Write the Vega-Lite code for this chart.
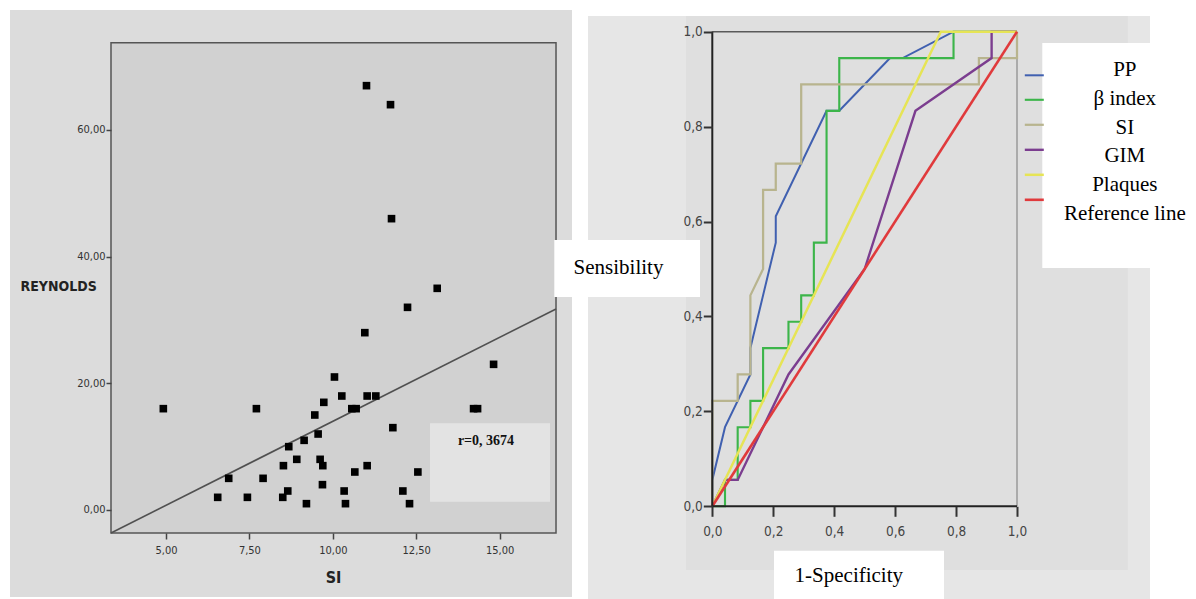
{
  "$schema": "https://vega.github.io/schema/vega-lite/v6.json",
  "width": 1196,
  "height": 599,
  "autosize": {"type": "none"},
  "padding": 0,
  "background": "#ffffff",
  "config": {
    "view": {"stroke": null},
    "axis": {"grid": false, "zindex": 1, "labelOverlap": false, "labelFlush": false, "labelBound": false}
  },
  "datasets": {
    "scatter": [
      {"SI": 4.92, "REYNOLDS": 16}, {"SI": 6.55, "REYNOLDS": 2}, {"SI": 6.88, "REYNOLDS": 5},
      {"SI": 7.44, "REYNOLDS": 2}, {"SI": 7.71, "REYNOLDS": 16}, {"SI": 7.91, "REYNOLDS": 5},
      {"SI": 8.5, "REYNOLDS": 2}, {"SI": 8.52, "REYNOLDS": 7}, {"SI": 8.65, "REYNOLDS": 3},
      {"SI": 8.68, "REYNOLDS": 10}, {"SI": 8.92, "REYNOLDS": 8}, {"SI": 9.14, "REYNOLDS": 11},
      {"SI": 9.21, "REYNOLDS": 1}, {"SI": 9.46, "REYNOLDS": 15}, {"SI": 9.56, "REYNOLDS": 12},
      {"SI": 9.62, "REYNOLDS": 8}, {"SI": 9.7, "REYNOLDS": 7}, {"SI": 9.69, "REYNOLDS": 4},
      {"SI": 9.73, "REYNOLDS": 17}, {"SI": 10.05, "REYNOLDS": 21}, {"SI": 10.27, "REYNOLDS": 18},
      {"SI": 10.34, "REYNOLDS": 3}, {"SI": 10.38, "REYNOLDS": 1}, {"SI": 10.57, "REYNOLDS": 16},
      {"SI": 10.7, "REYNOLDS": 16}, {"SI": 10.66, "REYNOLDS": 6}, {"SI": 10.96, "REYNOLDS": 28},
      {"SI": 11.03, "REYNOLDS": 18}, {"SI": 11.03, "REYNOLDS": 7}, {"SI": 11.29, "REYNOLDS": 18},
      {"SI": 11.8, "REYNOLDS": 13}, {"SI": 12.1, "REYNOLDS": 3}, {"SI": 12.24, "REYNOLDS": 32},
      {"SI": 12.3, "REYNOLDS": 1}, {"SI": 12.55, "REYNOLDS": 6}, {"SI": 13.13, "REYNOLDS": 35},
      {"SI": 14.22, "REYNOLDS": 16}, {"SI": 14.34, "REYNOLDS": 16}, {"SI": 14.82, "REYNOLDS": 23},
      {"SI": 11.01, "REYNOLDS": 67}, {"SI": 11.73, "REYNOLDS": 64}, {"SI": 11.76, "REYNOLDS": 46}
    ],
    "fit": [
      {"SI": 3.3513, "REYNOLDS": -3.632},
      {"SI": 16.691, "REYNOLDS": 31.74}
    ],
    "roc": [
      {"series": "PP", "i": 0, "fpr": 0, "tpr": 0},
      {"series": "PP", "i": 1, "fpr": 0, "tpr": 0.0556},
      {"series": "PP", "i": 2, "fpr": 0.0417, "tpr": 0.1667},
      {"series": "PP", "i": 3, "fpr": 0.125, "tpr": 0.2778},
      {"series": "PP", "i": 4, "fpr": 0.125, "tpr": 0.3333},
      {"series": "PP", "i": 5, "fpr": 0.2083, "tpr": 0.5556},
      {"series": "PP", "i": 6, "fpr": 0.2083, "tpr": 0.6111},
      {"series": "PP", "i": 7, "fpr": 0.375, "tpr": 0.8333},
      {"series": "PP", "i": 8, "fpr": 0.4167, "tpr": 0.8333},
      {"series": "PP", "i": 9, "fpr": 0.5833, "tpr": 0.9444},
      {"series": "PP", "i": 10, "fpr": 0.625, "tpr": 0.9444},
      {"series": "PP", "i": 11, "fpr": 0.7917, "tpr": 1},
      {"series": "PP", "i": 12, "fpr": 1, "tpr": 1},
      {"series": "β index", "i": 0, "fpr": 0, "tpr": 0},
      {"series": "β index", "i": 1, "fpr": 0.0417, "tpr": 0},
      {"series": "β index", "i": 2, "fpr": 0.0417, "tpr": 0.0556},
      {"series": "β index", "i": 3, "fpr": 0.0833, "tpr": 0.0556},
      {"series": "β index", "i": 4, "fpr": 0.0833, "tpr": 0.1667},
      {"series": "β index", "i": 5, "fpr": 0.125, "tpr": 0.1667},
      {"series": "β index", "i": 6, "fpr": 0.125, "tpr": 0.2222},
      {"series": "β index", "i": 7, "fpr": 0.1667, "tpr": 0.2222},
      {"series": "β index", "i": 8, "fpr": 0.1667, "tpr": 0.3333},
      {"series": "β index", "i": 9, "fpr": 0.25, "tpr": 0.3333},
      {"series": "β index", "i": 10, "fpr": 0.25, "tpr": 0.3889},
      {"series": "β index", "i": 11, "fpr": 0.2917, "tpr": 0.3889},
      {"series": "β index", "i": 12, "fpr": 0.2917, "tpr": 0.4444},
      {"series": "β index", "i": 13, "fpr": 0.3333, "tpr": 0.4444},
      {"series": "β index", "i": 14, "fpr": 0.3333, "tpr": 0.5556},
      {"series": "β index", "i": 15, "fpr": 0.375, "tpr": 0.5556},
      {"series": "β index", "i": 16, "fpr": 0.375, "tpr": 0.8333},
      {"series": "β index", "i": 17, "fpr": 0.4167, "tpr": 0.8333},
      {"series": "β index", "i": 18, "fpr": 0.4167, "tpr": 0.9444},
      {"series": "β index", "i": 19, "fpr": 0.7917, "tpr": 0.9444},
      {"series": "β index", "i": 20, "fpr": 0.7917, "tpr": 1},
      {"series": "β index", "i": 21, "fpr": 1, "tpr": 1},
      {"series": "SI", "i": 0, "fpr": 0, "tpr": 0},
      {"series": "SI", "i": 1, "fpr": 0, "tpr": 0.2222},
      {"series": "SI", "i": 2, "fpr": 0.0833, "tpr": 0.2222},
      {"series": "SI", "i": 3, "fpr": 0.0833, "tpr": 0.2778},
      {"series": "SI", "i": 4, "fpr": 0.125, "tpr": 0.2778},
      {"series": "SI", "i": 5, "fpr": 0.125, "tpr": 0.4444},
      {"series": "SI", "i": 6, "fpr": 0.1667, "tpr": 0.5},
      {"series": "SI", "i": 7, "fpr": 0.1667, "tpr": 0.6667},
      {"series": "SI", "i": 8, "fpr": 0.2083, "tpr": 0.6667},
      {"series": "SI", "i": 9, "fpr": 0.2083, "tpr": 0.7222},
      {"series": "SI", "i": 10, "fpr": 0.2917, "tpr": 0.7222},
      {"series": "SI", "i": 11, "fpr": 0.2917, "tpr": 0.8889},
      {"series": "SI", "i": 12, "fpr": 0.875, "tpr": 0.8889},
      {"series": "SI", "i": 13, "fpr": 0.875, "tpr": 0.9444},
      {"series": "SI", "i": 14, "fpr": 1, "tpr": 0.9444},
      {"series": "SI", "i": 15, "fpr": 1, "tpr": 1},
      {"series": "GIM", "i": 0, "fpr": 0, "tpr": 0},
      {"series": "GIM", "i": 1, "fpr": 0.0417, "tpr": 0.0556},
      {"series": "GIM", "i": 2, "fpr": 0.0833, "tpr": 0.0556},
      {"series": "GIM", "i": 3, "fpr": 0.25, "tpr": 0.2778},
      {"series": "GIM", "i": 4, "fpr": 0.5, "tpr": 0.5},
      {"series": "GIM", "i": 5, "fpr": 0.6667, "tpr": 0.8333},
      {"series": "GIM", "i": 6, "fpr": 0.9167, "tpr": 0.9444},
      {"series": "GIM", "i": 7, "fpr": 0.9167, "tpr": 1},
      {"series": "GIM", "i": 8, "fpr": 1, "tpr": 1},
      {"series": "Plaques", "i": 0, "fpr": 0, "tpr": 0},
      {"series": "Plaques", "i": 1, "fpr": 0.75, "tpr": 1},
      {"series": "Plaques", "i": 2, "fpr": 1, "tpr": 1},
      {"series": "Reference line", "i": 0, "fpr": 0, "tpr": 0},
      {"series": "Reference line", "i": 1, "fpr": 1, "tpr": 1}
    ],
    "curves": [
      {"series": "PP"}, {"series": "β index"}, {"series": "SI"},
      {"series": "GIM"}, {"series": "Plaques"}, {"series": "Reference line"}
    ]
  },
  "resolve": {"scale": {"x": "independent", "y": "independent"}},
  "layer": [
    {
      "layer": [
        {
          "data": {"values": [{}]},
          "mark": {"type": "rect", "fill": "#dcdcdc"},
          "encoding": {
            "x": {
              "datum": 0.3237, "type": "quantitative",
              "scale": {"domain": [0.02398, 35.8753], "nice": false, "zero": false},
              "axis": {
                "orient": "bottom", "offset": -66, "values": [5, 7.5, 10, 12.5, 15], "zindex": 2,
                "labelExpr": "replace(format(datum.value, '.2f'), '.', ',')",
                "domain": false, "tickSize": 6, "tickWidth": 1.5, "tickColor": "#444",
                "labelFont": "'Liberation Sans Narrow', 'DejaVu Sans Condensed', sans-serif",
                "labelFontSize": 11, "labelColor": "#333", "labelPadding": 5,
                "title": "SI",
                "titleFont": "'Liberation Sans Narrow', 'DejaVu Sans Condensed', sans-serif",
                "titleFontSize": 16, "titleFontWeight": "bold", "titleColor": "#222",
                "titleX": 333, "titleY": 44, "titleAlign": "center", "titleBaseline": "middle"
              }
            },
            "x2": {"datum": 17.17},
            "y": {
              "datum": 78.947, "type": "quantitative",
              "scale": {"domain": [-14.053, 80.526], "nice": false, "zero": false},
              "axis": {
                "orient": "left", "offset": -111, "values": [0, 20, 40, 60], "zindex": 2,
                "labelExpr": "replace(format(datum.value, '.2f'), '.', ',')",
                "domain": false, "tickSize": 5, "tickWidth": 1.5, "tickColor": "#444",
                "labelFont": "'Liberation Sans Narrow', 'DejaVu Sans Condensed', sans-serif",
                "labelFontSize": 11, "labelColor": "#333", "labelPadding": 1,
                "title": "REYNOLDS",
                "titleFont": "'Liberation Sans Narrow', 'DejaVu Sans Condensed', sans-serif",
                "titleFontSize": 14, "titleFontWeight": "bold", "titleColor": "#222",
                "titleAngle": 0, "titleX": -91, "titleY": 286, "titleAlign": "left", "titleBaseline": "middle"
              }
            },
            "y2": {"datum": -13.737}
          }
        },
        {
          "data": {"values": [{}]},
          "mark": {"type": "rect", "fill": "#d1d1d1", "stroke": "#555555", "strokeWidth": 1.5},
          "encoding": {
            "x": {"datum": 3.3513, "type": "quantitative"},
            "x2": {"datum": 16.691},
            "y": {"datum": 73.79, "type": "quantitative"},
            "y2": {"datum": -3.632}
          }
        },
        {
          "data": {"name": "fit"},
          "mark": {"type": "line", "color": "#505050", "strokeWidth": 1.6},
          "encoding": {
            "x": {"field": "SI", "type": "quantitative"},
            "y": {"field": "REYNOLDS", "type": "quantitative"}
          }
        },
        {
          "data": {"name": "scatter"},
          "mark": {"type": "point", "shape": "square", "filled": true, "color": "#000000", "opacity": 1, "size": 58},
          "encoding": {
            "x": {"field": "SI", "type": "quantitative"},
            "y": {"field": "REYNOLDS", "type": "quantitative"}
          }
        },
        {
          "data": {"values": [{}]},
          "mark": {"type": "rect", "fill": "#e3e3e3"},
          "encoding": {
            "x": {"datum": 12.914, "type": "quantitative"},
            "x2": {"datum": 16.511},
            "y": {"datum": 13.69, "type": "quantitative"},
            "y2": {"datum": 1.311}
          }
        },
        {
          "data": {"values": [{}]},
          "mark": {"type": "text", "text": "r=0, 3674", "font": "'Liberation Serif', serif", "fontSize": 14, "fontWeight": "bold", "color": "#111111", "align": "center", "baseline": "middle"},
          "encoding": {
            "x": {"datum": 14.592, "type": "quantitative"},
            "y": {"datum": 10.9, "type": "quantitative"}
          }
        }
      ]
    },
    {
      "layer": [
        {
          "data": {"values": [{}]},
          "mark": {"type": "rect", "fill": "#e6e6e6"},
          "encoding": {
            "x": {
              "datum": -0.40794, "type": "quantitative",
              "scale": {"domain": [-2.33771, 1.58746], "nice": false, "zero": false},
              "axis": {
                "orient": "bottom", "offset": -92.7, "values": [0, 0.2, 0.4, 0.6, 0.8, 1], "zindex": 2,
                "labelExpr": "replace(format(datum.value, '.1f'), '.', ',')",
                "domain": false, "tickSize": 10, "tickWidth": 2, "tickColor": "#333",
                "labelFont": "'Liberation Sans Narrow', 'DejaVu Sans Condensed', sans-serif",
                "labelFontSize": 13.5, "labelColor": "#444", "labelPadding": 8.5,
                "title": null
              }
            },
            "x2": {"datum": 1.43649},
            "y": {
              "datum": 1.03308, "type": "quantitative",
              "scale": {"domain": [-0.19532, 1.06679], "nice": false, "zero": false},
              "axis": {
                "orient": "left", "offset": -712.3, "values": [0, 0.2, 0.4, 0.6, 0.8, 1], "zindex": 2,
                "labelExpr": "replace(format(datum.value, '.1f'), '.', ',')",
                "domain": false, "tickSize": 9, "tickWidth": 2, "tickColor": "#333",
                "labelFont": "'Liberation Sans Narrow', 'DejaVu Sans Condensed', sans-serif",
                "labelFontSize": 13.5, "labelColor": "#444", "labelPadding": 1,
                "title": null
              }
            },
            "y2": {"datum": -0.19532}
          }
        },
        {
          "data": {"values": [{}]},
          "mark": {"type": "rect", "fill": "#dfdfdf"},
          "encoding": {
            "x": {"datum": -0.08631, "type": "quantitative"},
            "x2": {"datum": 1.36397},
            "y": {"datum": 1.03308, "type": "quantitative"},
            "y2": {"datum": -0.13422}
          }
        },
        {
          "data": {"values": [{}]},
          "mark": {"type": "rule", "color": "#5a5a5a", "strokeWidth": 1.5},
          "encoding": {
            "x": {"datum": 0, "type": "quantitative"},
            "x2": {"datum": 1},
            "y": {"datum": 1, "type": "quantitative"}
          }
        },
        {
          "data": {"values": [{}]},
          "mark": {"type": "rule", "color": "#9a9a9a", "strokeWidth": 1.5},
          "encoding": {
            "x": {"datum": 1, "type": "quantitative"},
            "y": {"datum": 0, "type": "quantitative"},
            "y2": {"datum": 1}
          }
        },
        {
          "data": {"name": "roc"},
          "mark": {"type": "line", "interpolate": "linear"},
          "encoding": {
            "x": {"field": "fpr", "type": "quantitative"},
            "y": {"field": "tpr", "type": "quantitative"},
            "order": {"field": "i", "type": "quantitative"},
            "color": {
              "field": "series", "type": "nominal",
              "scale": {
                "domain": ["PP", "β index", "SI", "GIM", "Plaques", "Reference line"],
                "range": ["#4060b0", "#3cb54a", "#b8b48e", "#7b3d8f", "#e6e455", "#e03a3c"]
              },
              "legend": {
                "orient": "none", "legendX": 1023.3, "legendY": 64.8, "title": null,
                "symbolType": "stroke", "symbolSize": 361, "symbolStrokeWidth": 2,
                "labelExpr": "''", "labelFontSize": 8, "rowPadding": 9, "padding": 0
              }
            },
            "strokeWidth": {
              "field": "series", "type": "nominal",
              "scale": {
                "domain": ["PP", "β index", "SI", "GIM", "Plaques", "Reference line"],
                "range": [2, 2.6, 2, 2, 1.6, 2]
              },
              "legend": null
            }
          }
        },
        {
          "data": {"values": [{}]},
          "mark": {"type": "rule", "color": "#222222", "strokeWidth": 2},
          "encoding": {
            "x": {"datum": 0, "type": "quantitative"},
            "y": {"datum": 0, "type": "quantitative"},
            "y2": {"datum": 1}
          }
        },
        {
          "data": {"values": [{}]},
          "mark": {"type": "rule", "color": "#222222", "strokeWidth": 2},
          "encoding": {
            "x": {"datum": 0, "type": "quantitative"},
            "x2": {"datum": 1},
            "y": {"datum": 0, "type": "quantitative"}
          }
        },
        {
          "data": {"values": [{}]},
          "mark": {"type": "rect", "fill": "#ffffff"},
          "encoding": {
            "x": {"datum": -0.51854, "type": "quantitative"},
            "x2": {"datum": -0.04037},
            "y": {"datum": 0.5611, "type": "quantitative"},
            "y2": {"datum": 0.441}
          }
        },
        {
          "data": {"values": [{}]},
          "mark": {"type": "text", "text": "Sensibility", "font": "'Liberation Serif', serif", "fontSize": 21, "color": "#000000", "align": "center", "baseline": "middle"},
          "encoding": {
            "x": {"datum": -0.30784, "type": "quantitative"},
            "y": {"datum": 0.50211, "type": "quantitative"}
          }
        },
        {
          "data": {"values": [{}]},
          "mark": {"type": "rect", "fill": "#ffffff"},
          "encoding": {
            "x": {"datum": 1.08303, "type": "quantitative"},
            "x2": {"datum": 1.44306},
            "y": {"datum": 0.97619, "type": "quantitative"},
            "y2": {"datum": 0.50211}
          }
        },
        {
          "data": {"values": [{}]},
          "mark": {"type": "rect", "fill": "#ffffff"},
          "encoding": {
            "x": {"datum": 0.20249, "type": "quantitative"},
            "x2": {"datum": 0.76042},
            "y": {"datum": -0.09355, "type": "quantitative"},
            "y2": {"datum": -0.19532}
          }
        },
        {
          "data": {"values": [{}]},
          "mark": {"type": "text", "text": "1-Specificity", "font": "'Liberation Serif', serif", "fontSize": 21, "color": "#000000", "align": "center", "baseline": "middle"},
          "encoding": {
            "x": {"datum": 0.44798, "type": "quantitative"},
            "y": {"datum": -0.14686, "type": "quantitative"}
          }
        }
      ]
    },
    {
      "data": {"name": "curves"},
      "mark": {"type": "text", "font": "'Liberation Serif', serif", "fontSize": 21, "color": "#000000", "align": "center", "baseline": "middle"},
      "encoding": {
        "x": {"datum": 1.3538, "type": "quantitative", "scale": {"domain": [-2.33771, 1.58746], "nice": false, "zero": false}, "axis": null},
        "y": {
          "field": "series", "type": "nominal", "sort": null,
          "scale": {"type": "point", "domain": ["PP", "β index", "SI", "GIM", "Plaques", "Reference line"], "range": [70, 214], "padding": 0},
          "axis": null
        },
        "text": {"field": "series"}
      }
    }
  ]
}
